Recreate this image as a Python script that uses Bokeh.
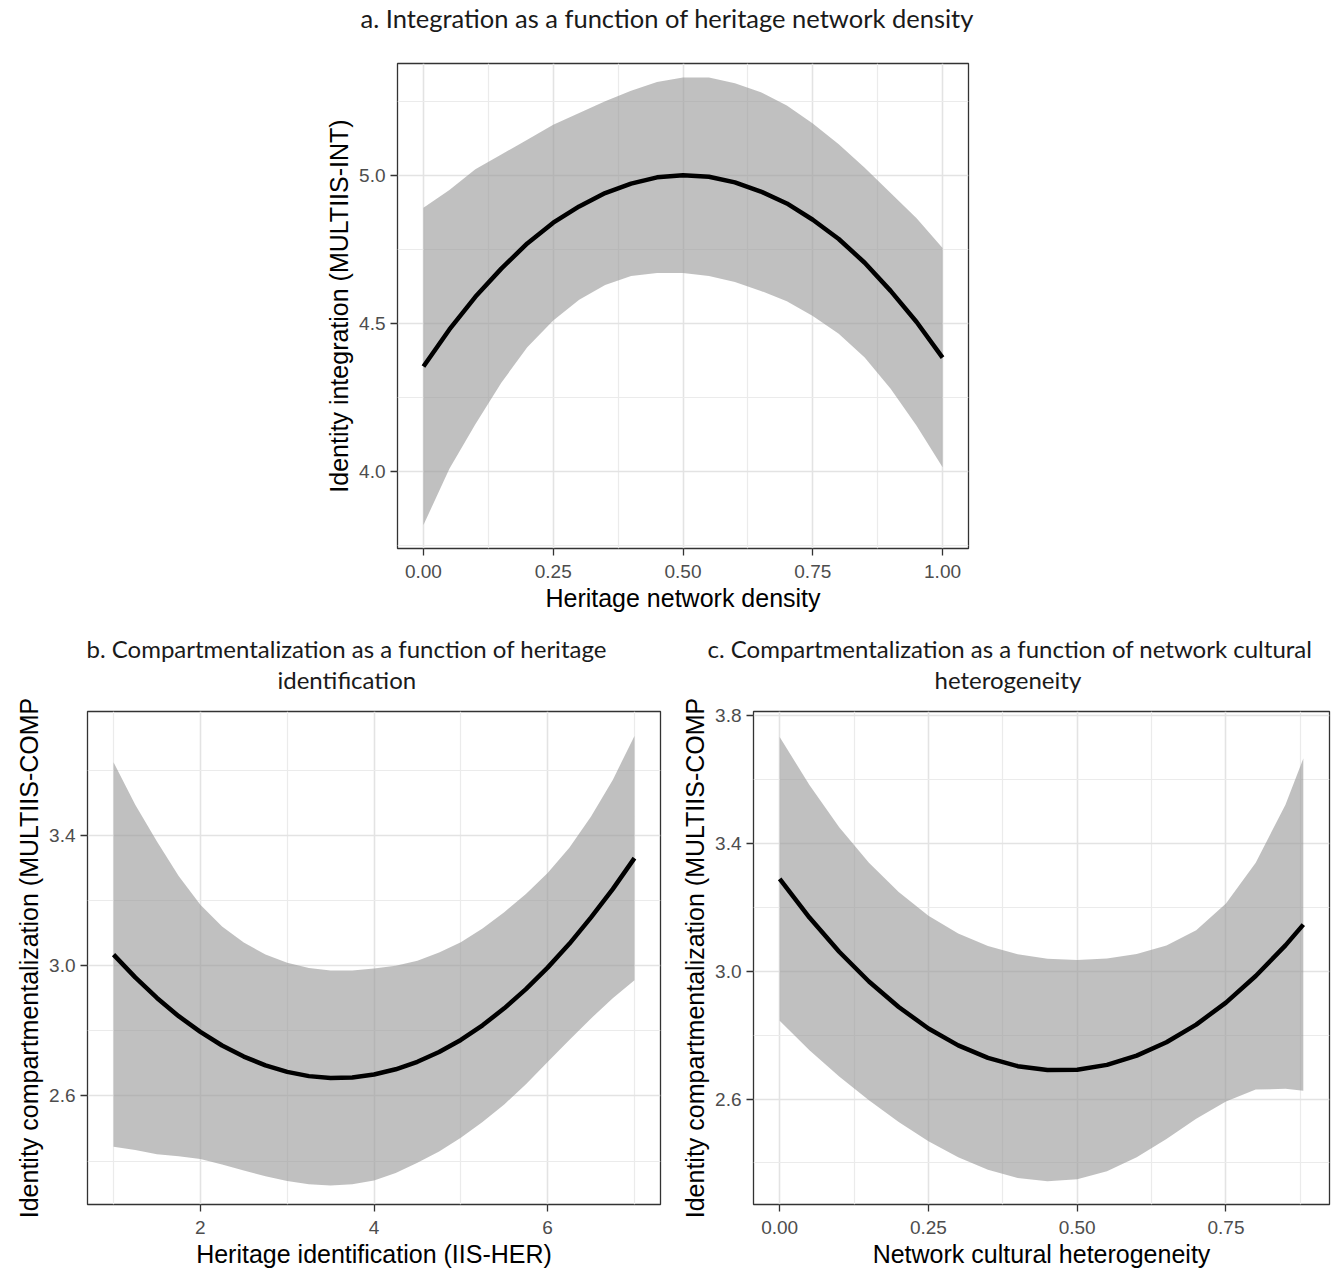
from bokeh.plotting import figure
from bokeh.models import Range1d, FixedTicker, PrintfTickFormatter, Title
from bokeh.layouts import column, row
from bokeh.embed import file_html
from bokeh.resources import INLINE

# ---------------- data ----------------
# Panel a: integration vs heritage network density
a_x = [0.00, 0.05, 0.10, 0.15, 0.20, 0.25, 0.30, 0.35, 0.40, 0.45, 0.50,
       0.55, 0.60, 0.65, 0.70, 0.75, 0.80, 0.85, 0.90, 0.95, 1.00]
a_fit = [4.355, 4.48, 4.59, 4.685, 4.77, 4.84, 4.895, 4.94, 4.972, 4.993, 5.00,
         4.995, 4.976, 4.945, 4.905, 4.85, 4.785, 4.705, 4.61, 4.505, 4.385]
a_upper = [4.89, 4.95, 5.02, 5.07, 5.12, 5.17, 5.21, 5.25, 5.285, 5.315, 5.33,
           5.33, 5.31, 5.28, 5.235, 5.175, 5.105, 5.025, 4.94, 4.855, 4.755]
a_lower = [3.82, 4.01, 4.16, 4.30, 4.42, 4.51, 4.58, 4.63, 4.66, 4.67, 4.67,
           4.66, 4.64, 4.61, 4.575, 4.525, 4.465, 4.385, 4.28, 4.155, 4.015]
a_xticks = [0.0, 0.25, 0.5, 0.75, 1.0]
a_xminor = [0.125, 0.375, 0.625, 0.875]
a_yticks = [4.0, 4.5, 5.0]
a_yminor = [3.75, 4.25, 4.75, 5.25]

# Panel b: compartmentalization vs heritage identification
b_x = [1.0, 1.25, 1.5, 1.75, 2.0, 2.25, 2.5, 2.75, 3.0, 3.25, 3.5, 3.75, 4.0,
       4.25, 4.5, 4.75, 5.0, 5.25, 5.5, 5.75, 6.0, 6.25, 6.5, 6.75, 7.0]
b_fit = [3.034, 2.964, 2.901, 2.845, 2.797, 2.755, 2.721, 2.694, 2.674, 2.661, 2.655, 2.657, 2.666,
         2.682, 2.705, 2.735, 2.772, 2.817, 2.869, 2.928, 2.994, 3.067, 3.148, 3.235, 3.330]
b_upper = [3.624, 3.494, 3.381, 3.275, 3.187, 3.120, 3.071, 3.034, 3.009, 2.993, 2.985, 2.985, 2.991,
           3.000, 3.015, 3.040, 3.072, 3.114, 3.164, 3.220, 3.284, 3.362, 3.458, 3.570, 3.705]
b_lower = [2.444, 2.434, 2.421, 2.415, 2.407, 2.390, 2.371, 2.354, 2.339, 2.329, 2.325, 2.329, 2.341,
           2.364, 2.395, 2.430, 2.472, 2.520, 2.574, 2.636, 2.704, 2.772, 2.838, 2.900, 2.955]
b_xticks = [2, 4, 6]
b_xminor = [1, 3, 5, 7]
b_yticks = [2.6, 3.0, 3.4]
b_yminor = [2.4, 2.8, 3.2, 3.6]

# Panel c: compartmentalization vs network cultural heterogeneity
c_x = [0.00, 0.05, 0.10, 0.15, 0.20, 0.25, 0.30, 0.35, 0.40, 0.45,
       0.50, 0.55, 0.60, 0.65, 0.70, 0.75, 0.80, 0.85, 0.88]
c_fit = [3.289, 3.168, 3.061, 2.968, 2.888, 2.821, 2.768, 2.729, 2.703, 2.691,
         2.692, 2.707, 2.736, 2.778, 2.833, 2.902, 2.985, 3.081, 3.146]
c_upper = [3.733, 3.583, 3.451, 3.340, 3.248, 3.174, 3.118, 3.079, 3.053, 3.039,
           3.035, 3.040, 3.054, 3.081, 3.128, 3.212, 3.340, 3.521, 3.666]
c_lower = [2.845, 2.753, 2.671, 2.596, 2.528, 2.468, 2.418, 2.379, 2.353, 2.343,
           2.349, 2.374, 2.418, 2.475, 2.538, 2.592, 2.630, 2.632, 2.626]
c_xticks = [0.0, 0.25, 0.5, 0.75]
c_xminor = [0.125, 0.375, 0.625, 0.875]
c_yticks = [2.6, 3.0, 3.4, 3.8]
c_yminor = [2.4, 2.8, 3.2, 3.6]

TITLE_FONT = "Lato"
AXIS_FONT = "Liberation Sans"


def make_panel(width, height, left, right, top, bottom, xr, yr,
               xt, xm, yt, ym, xfmt, yfmt, xlabel, ylabel,
               xs, fit, upper, lower, titles, title_size, gap):
    p = figure(width=width, height=height, x_range=Range1d(*xr), y_range=Range1d(*yr),
               output_backend="svg", toolbar_location=None,
               min_border_left=left, min_border_right=right,
               min_border_top=top, min_border_bottom=bottom)
    p.background_fill_color = "white"
    p.border_fill_color = "white"
    p.outline_line_color = "#333333"
    p.outline_line_width = 1.3

    p.xaxis.ticker = FixedTicker(ticks=xt, minor_ticks=xm)
    p.yaxis.ticker = FixedTicker(ticks=yt, minor_ticks=ym)
    p.xaxis.formatter = PrintfTickFormatter(format=xfmt)
    p.yaxis.formatter = PrintfTickFormatter(format=yfmt)
    p.xaxis.axis_label = xlabel
    p.yaxis.axis_label = ylabel

    for ax in (p.xaxis[0], p.yaxis[0]):
        ax.axis_line_color = None
        ax.major_tick_line_color = "#333333"
        ax.major_tick_line_width = 1.3
        ax.major_tick_out = 7
        ax.major_tick_in = 0
        ax.minor_tick_line_color = None
        ax.major_label_text_font = AXIS_FONT
        ax.major_label_text_font_size = "19px"
        ax.major_label_text_color = "#4D4D4D"
        ax.axis_label_text_font = AXIS_FONT
        ax.axis_label_text_font_size = "25px"
        ax.axis_label_text_font_style = "normal"
        ax.axis_label_text_color = "black"
    p.xaxis.major_label_standoff = 9
    p.xaxis.axis_label_standoff = 3
    p.yaxis.major_label_standoff = 5
    p.yaxis.axis_label_standoff = 3

    for g in (p.xgrid[0], p.ygrid[0]):
        g.grid_line_color = "#E3E3E3"
        g.grid_line_width = 1.6
        g.minor_grid_line_color = "#EBEBEB"
        g.minor_grid_line_width = 1.2

    p.varea(x=xs, y1=lower, y2=upper, fill_color="#999999", fill_alpha=0.62)
    p.line(x=xs, y=fit, line_color="black", line_width=4.5)

    # spacer between frame and titles (first added sits closest to the frame)
    p.add_layout(Title(text=" ", text_font_size="1px", standoff=gap), "above")
    for (txt, off) in reversed(titles):
        p.add_layout(Title(text=txt, align="left", offset=off, text_font=TITLE_FONT,
                           text_font_size=title_size, text_font_style="normal",
                           text_color="#1A1A1A", standoff=0), "above")
    return p


pa = make_panel(1343, 630, 397, 375, 62, 82, (-0.05, 1.05), (3.741, 5.377),
                a_xticks, a_xminor, a_yticks, a_yminor, "%.2f", "%.1f",
                "Heritage network density", "Identity integration (MULTIIS-INT)",
                a_x, a_fit, a_upper, a_lower,
                [("a. Integration as a function of heritage network density", -37)],
                "25.5px", 28)

pb = make_panel(672, 642, 87, 12, 81, 68, (0.7, 7.3), (2.267, 3.78),
                b_xticks, b_xminor, b_yticks, b_yminor, "%d", "%.1f",
                "Heritage identification (IIS-HER)", "Identity compartmentalization (MULTIIS-COMP",
                b_x, b_fit, b_upper, b_lower,
                [("b. Compartmentalization as a function of heritage", -1),
                 ("identification", 190)],
                "24px", 15)

pc = make_panel(671, 642, 81, 14, 81, 68, (-0.044, 0.924), (2.27, 3.813),
                c_xticks, c_xminor, c_yticks, c_yminor, "%.2f", "%.1f",
                "Network cultural heterogeneity", "Identity compartmentalization (MULTIIS-COMP",
                c_x, c_fit, c_upper, c_lower,
                [("c. Compartmentalization as a function of network cultural", -46),
                 ("heterogeneity", 181)],
                "24px", 15)

layout = column(pa, row(pb, pc, spacing=0), spacing=0)

open("out.html", "w").write(file_html(layout, INLINE))
